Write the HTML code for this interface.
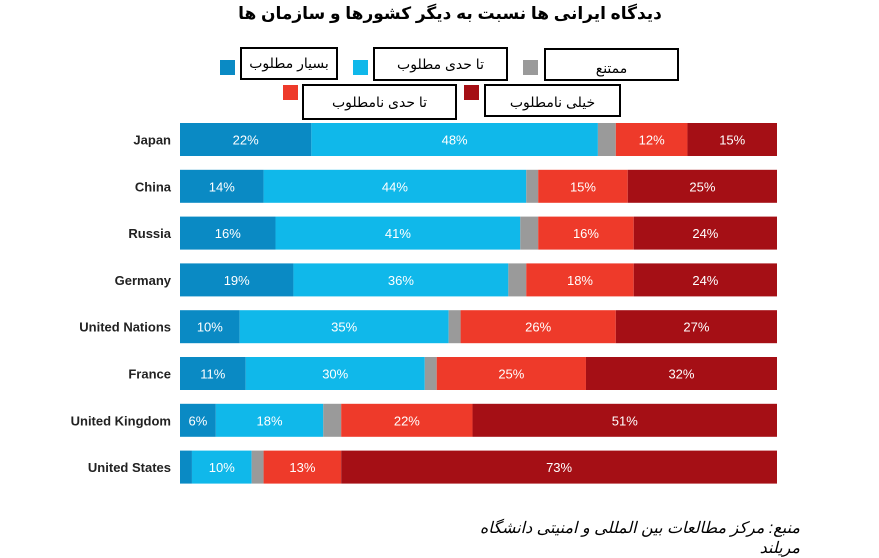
<!DOCTYPE html>
<html><head><meta charset="utf-8">
<style>
body{margin:0;background:#fff;width:879px;height:553px;overflow:hidden;font-family:"Liberation Sans","DejaVu Sans",sans-serif;}
.title{position:absolute;left:200px;top:4px;width:500px;text-align:center;font-size:17px;font-weight:bold;direction:rtl;}
.lbox{position:absolute;border:2px solid #000;box-sizing:border-box;font-size:14px;text-align:center;direction:rtl;background:#fff;}
.sq{position:absolute;width:15px;height:15px;}
.src{position:absolute;left:470px;top:518px;width:330px;text-align:right;font-size:16px;font-style:italic;direction:rtl;}
</style></head><body>
<div class="title">دیدگاه ایرانی ها نسبت به دیگر کشورها و سازمان ها</div>
<div class="sq" style="left:220px;top:60px;background:#0a8ac4"></div>
<div class="lbox" style="left:240px;top:47px;width:98px;height:33px;line-height:29px">بسیار مطلوب</div>
<div class="sq" style="left:353px;top:60px;background:#10b8ea"></div>
<div class="lbox" style="left:373px;top:47px;width:135px;height:34px;line-height:30px">تا حدی مطلوب</div>
<div class="sq" style="left:523px;top:60px;background:#9a9a9a"></div>
<div class="lbox" style="left:544px;top:48px;width:135px;height:33px;line-height:36px">ممتنع</div>
<div class="sq" style="left:283px;top:85px;background:#ee3a2a"></div>
<div class="lbox" style="left:302px;top:84px;width:155px;height:36px;line-height:32px">تا حدی نامطلوب</div>
<div class="sq" style="left:464px;top:85px;background:#a50f15"></div>
<div class="lbox" style="left:484px;top:84px;width:137px;height:33px;line-height:33px">خیلی نامطلوب</div>
<svg id="chart" width="879" height="553" style="position:absolute;left:0;top:0"></svg>
<div class="src">منبع: مرکز مطالعات بین المللی و امنیتی دانشگاه مریلند</div>
<script>
const countries=["Japan","China","Russia","Germany","United Nations","France","United Kingdom","United States"];
const veryFav=[22,14,16,19,10,11,6,2];
const someFav=[48,44,41,36,35,30,18,10];
const refused=[3,2,3,3,2,2,3,2];
const someUnfav=[12,15,16,18,26,25,22,13];
const veryUnfav=[15,25,24,24,27,32,51,73];
const series=[veryFav,someFav,refused,someUnfav,veryUnfav];
const colors=["#0a8ac4","#10b8ea","#9a9a9a","#ee3a2a","#a50f15"];
const names=["very-favorable","somewhat-favorable","refused","somewhat-unfavorable","very-unfavorable"];
const svg=document.getElementById('chart');
const NS="http://www.w3.org/2000/svg";
const x0=180,x1=777,top0=123,step=46.8,bh=33;
const xs=v=>v*(x1-x0)/100;
const yRow=i=>top0+i*step;
countries.forEach((c,i)=>{
  const y=yRow(i);
  const t=document.createElementNS(NS,'text');
  
  
  t.setAttribute('x',171);t.setAttribute('y',y+bh/2+5);
  t.setAttribute('text-anchor','end');t.setAttribute('font-size','13');t.setAttribute('font-weight','bold');t.setAttribute('fill','#222');
  t.textContent=c;svg.appendChild(t);
  const total=series.reduce((s,a)=>s+a[i],0);
  let acc=0;
  series.forEach((arr,k)=>{
    const v=arr[i];
    const r=document.createElementNS(NS,'rect');
    
    
    const bx=x0+xs(acc*100/total), bw=xs(v*100/total);
    r.setAttribute('x',bx);r.setAttribute('y',y);r.setAttribute('width',bw);r.setAttribute('height',bh);
    r.setAttribute('fill',colors[k]);svg.appendChild(r);
    if(k!==2 && v>=5){
      const l=document.createElementNS(NS,'text');
      
      
      l.setAttribute('x',bx+bw/2);l.setAttribute('y',y+bh/2+5);
      l.setAttribute('text-anchor','middle');l.setAttribute('font-size','13');l.setAttribute('fill','#fff');
      l.textContent=v+'%';svg.appendChild(l);
    }
    acc+=v;
  });
});
</script>
</body></html>
